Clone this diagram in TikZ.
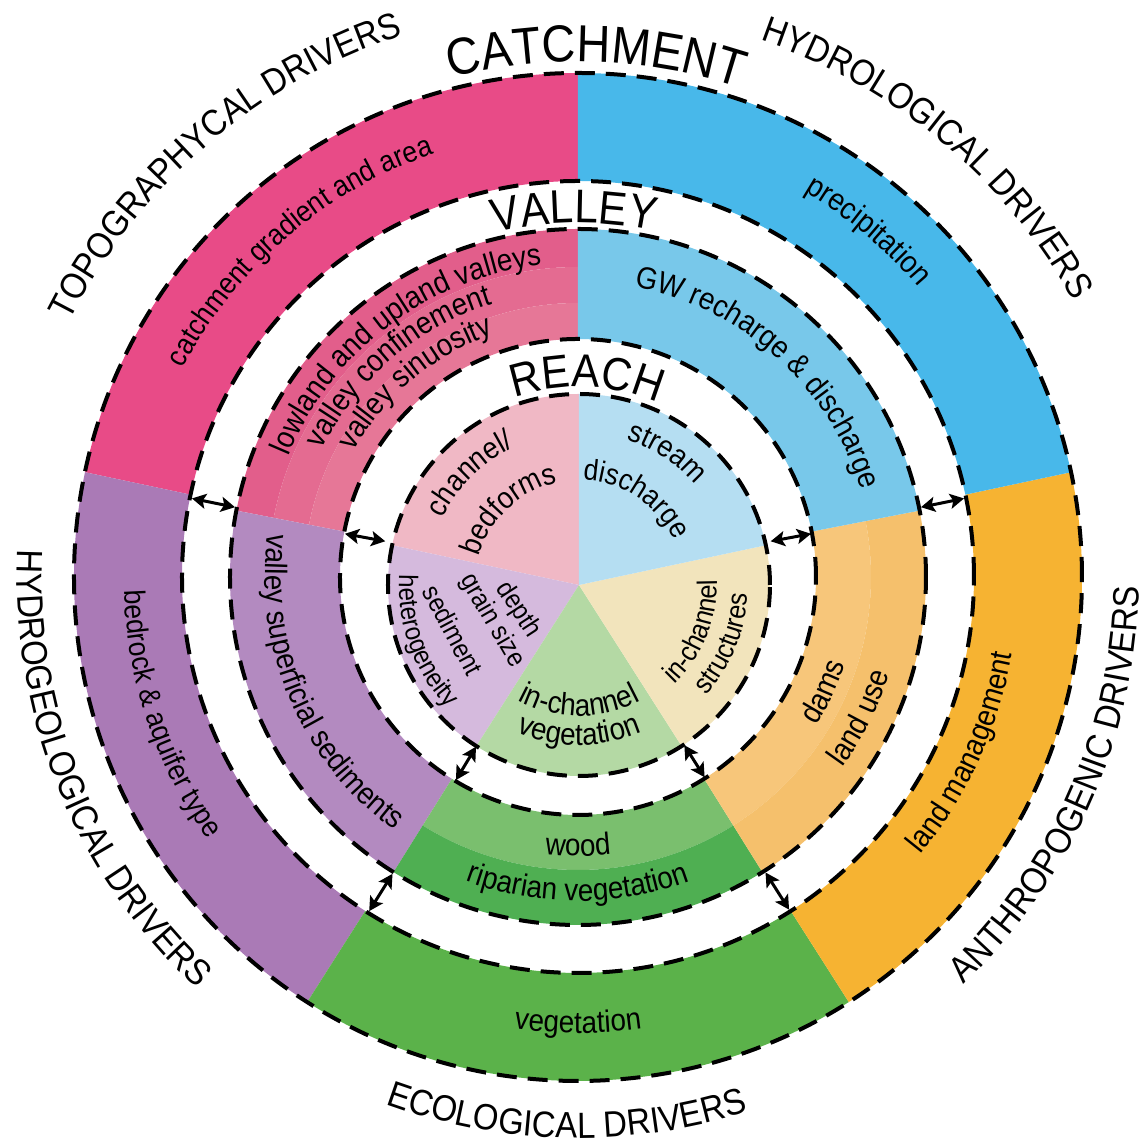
\documentclass[tikz,border=0pt]{standalone}
\usepackage{fontspec}
\setmainfont[FakeStretch=0.9]{Liberation Sans}
\usetikzlibrary{decorations.text,arrows.meta}

\definecolor{catpink}{HTML}{E84B87}
\definecolor{catblue}{HTML}{48B8EA}
\definecolor{catorange}{HTML}{F6B332}
\definecolor{catgreen}{HTML}{5BB24A}
\definecolor{catpurple}{HTML}{AA7AB6}
\definecolor{valpinka}{HTML}{E25E8B}
\definecolor{valpinkb}{HTML}{E46B91}
\definecolor{valpinkc}{HTML}{E67797}
\definecolor{valblue}{HTML}{78C8EA}
\definecolor{valpurple}{HTML}{B38AC0}
\definecolor{valgreenin}{HTML}{7ABF6E}
\definecolor{valgreenout}{HTML}{4FAF52}
\definecolor{valorangein}{HTML}{F7C67A}
\definecolor{valorangeout}{HTML}{F5C06C}
\definecolor{reachpink}{HTML}{F0B8C5}
\definecolor{reachblue}{HTML}{B5DEF2}
\definecolor{reachyellow}{HTML}{F2E4BC}
\definecolor{reachgreen}{HTML}{B4D9A4}
\definecolor{reachpurple}{HTML}{D5BADD}

% ring piece: colour, from, to, inner radius, outer radius
\newcommand{\ringseg}[5]{\fill[#1] (#2:#4) arc[start angle=#2,end angle=#3,radius=#4] -- (#3:#5) arc[start angle=#3,end angle=#2,radius=#5] -- cycle;}
% pie piece: colour, from, to, radius
\newcommand{\pieseg}[4]{\fill[#1] (0,0) -- (#2:#4) arc[start angle=#2,end angle=#3,radius=#4] -- cycle;}
% text on an arc: centre angle, radius, size, text
\newcommand{\cwtext}[4]{\path[decorate,decoration={text along path,text align=center,text={|\fontsize{#3}{#3}\selectfont|#4}}] (#1+60:#2) arc[start angle=#1+60,end angle=#1-60,radius=#2];}
\newcommand{\ccwtext}[4]{\path[decorate,decoration={text along path,text align=center,text={|\fontsize{#3}{#3}\selectfont|#4}}] (#1-60:#2) arc[start angle=#1-60,end angle=#1+60,radius=#2];}

\begin{document}
\begin{tikzpicture}
  \tikzset{
    dashring/.style={dash pattern=on 0.2cm off 0.11cm, line width=0.04cm},
    dblarrow/.style={{Stealth[length=0.14cm,width=0.15cm,inset=0.03cm]}-{Stealth[length=0.14cm,width=0.15cm,inset=0.03cm]}, line width=0.03cm},
    pietext/.style={inner sep=0pt, font=\fontsize{7.6pt}{7.6pt}\selectfont}
  }
  \useasboundingbox (-5.78,-5.64) rectangle (5.67,5.77);

  % catchment
  \ringseg{catpink}{90}{168}{3.96}{5.04}
  \ringseg{catpurple}{168}{237.5}{3.96}{5.04}
  \ringseg{catgreen}{237.5}{302.5}{3.96}{5.04}
  \ringseg{catorange}{302.5}{372}{3.96}{5.04}
  \ringseg{catblue}{12}{90}{3.96}{5.04}

  % valley
  \ringseg{valpinka}{90}{169}{3.10}{3.48}
  \ringseg{valpinkb}{90}{169}{2.74}{3.10}
  \ringseg{valpinkc}{90}{169}{2.38}{2.74}
  \ringseg{valpurple}{169}{238}{2.38}{3.48}
  \ringseg{valgreenin}{238}{302}{2.38}{2.93}
  \ringseg{valgreenout}{238}{302}{2.93}{3.48}
  \ringseg{valorangein}{302}{371}{2.38}{2.93}
  \ringseg{valorangeout}{302}{371}{2.93}{3.48}
  \ringseg{valblue}{11}{90}{2.38}{3.48}

  \draw[dashring] (0,0) circle[radius=5.04];
  \draw[dashring] (0,0) circle[radius=3.96];
  \draw[dashring] (0,0) circle[radius=3.48];
  \draw[dashring] (0,0) circle[radius=2.38];

  % reach
  \begin{scope}[shift={(0.01,-0.08)}]
    \pieseg{reachpink}{90}{168}{1.91}
    \pieseg{reachpurple}{168}{237.5}{1.91}
    \pieseg{reachgreen}{237.5}{302.5}{1.91}
    \pieseg{reachyellow}{302.5}{372}{1.91}
    \pieseg{reachblue}{12}{90}{1.91}
    \draw[dashring] (0,0) circle[radius=1.91];

    \cwtext{134.5}{1.52}{8.6pt}{channel/}
    \cwtext{133}{1.04}{8.6pt}{bedforms}
    \cwtext{56.3}{1.53}{8.6pt}{stream}
    \cwtext{56.5}{1.05}{8.4pt}{discharge}
    \ccwtext{338}{1.38}{8pt}{in-channel}
    \ccwtext{338}{1.69}{8pt}{structures}
    \ccwtext{270}{1.31}{8.8pt}{in-channel}
    \ccwtext{270}{1.60}{8.8pt}{vegetation}
    \node[pietext, rotate=-57] (depth) at (-0.61,-0.25) {depth};
    \node[pietext, rotate=-60] (grain) at (-0.87,-0.36) {grain size};
    \node[pietext, rotate=-62] (sediment) at (-1.26,-0.45) {sediment};
    \ccwtext{200}{1.80}{7.6pt}{heterogeneity}
    \cwtext{87.8}{1.98}{13.2pt}{REACH}
  \end{scope}

  % valley texts
  \cwtext{127}{3.14}{8.8pt}{lowland and upland valleys}
  \cwtext{130.5}{2.86}{8.8pt}{valley confinement}
  \cwtext{130}{2.57}{8.8pt}{valley sinuosity}
  \cwtext{48}{2.96}{8.8pt}{GW recharge {\&} discharge}
  \ccwtext{203}{3.13}{8.8pt}{valley superficial sediments}
  \ccwtext{270}{2.79}{8.8pt}{wood}
  \ccwtext{270}{3.24}{8.8pt}{riparian vegetation}
  \ccwtext{335}{2.81}{8.8pt}{dams}
  \ccwtext{333.5}{3.26}{8.8pt}{land use}
  \cwtext{90.6}{3.54}{13.4pt}{VALLEY}

  % catchment texts
  \cwtext{130.5}{4.47}{8.4pt}{catchment gradient and area}
  \cwtext{50}{4.47}{8.8pt}{precipitation}
  \ccwtext{198.5}{4.54}{8.4pt}{bedrock {\&} aquifer type}
  \ccwtext{270}{4.56}{8.8pt}{vegetation}
  \ccwtext{335.5}{4.41}{8.8pt}{land management}
  \cwtext{88}{5.15}{14.8pt}{CATCHMENT}

  % drivers
  \cwtext{130.6}{5.69}{10.4pt}{TOPOGRAPHYCAL DRIVERS}
  \cwtext{50.2}{5.67}{10.4pt}{HYDROLOGICAL DRIVERS}
  \ccwtext{202.2}{5.61}{10.4pt}{HYDROGEOLOGICAL DRIVERS}
  \ccwtext{268.8}{5.61}{10.4pt}{ECOLOGICAL DRIVERS}
  \ccwtext{336.2}{5.61}{10.4pt}{ANTHROPOGENIC DRIVERS}

  % links between scales
  \coordinate (vl) at (168.5:3.50);  \coordinate (cl) at (168.5:3.94);
  \coordinate (vr) at (11.5:3.50);   \coordinate (cr) at (11.5:3.94);
  \coordinate (vbl) at (238:3.50);   \coordinate (cbl) at (238:3.94);
  \coordinate (vbr) at (302.4:3.50); \coordinate (cbr) at (302.4:3.94);
  \coordinate (rl) at (169.5:1.96);  \coordinate (vil) at (169.5:2.37);
  \coordinate (rr) at (10.5:1.96);   \coordinate (vir) at (10.5:2.37);
  \coordinate (rbl) at (239:1.98);   \coordinate (vibl) at (239:2.37);
  \coordinate (rbr) at (302.3:1.99); \coordinate (vibr) at (302.3:2.37);

  \draw[dblarrow] (vl) -- (cl);
  \draw[dblarrow] (vr) -- (cr);
  \draw[dblarrow] (vbl) -- (cbl);
  \draw[dblarrow] (vbr) -- (cbr);
  \draw[dblarrow] (rl) -- (vil);
  \draw[dblarrow] (rr) -- (vir);
  \draw[dblarrow] (rbl) -- (vibl);
  \draw[dblarrow] (rbr) -- (vibr);
\end{tikzpicture}
\end{document}
